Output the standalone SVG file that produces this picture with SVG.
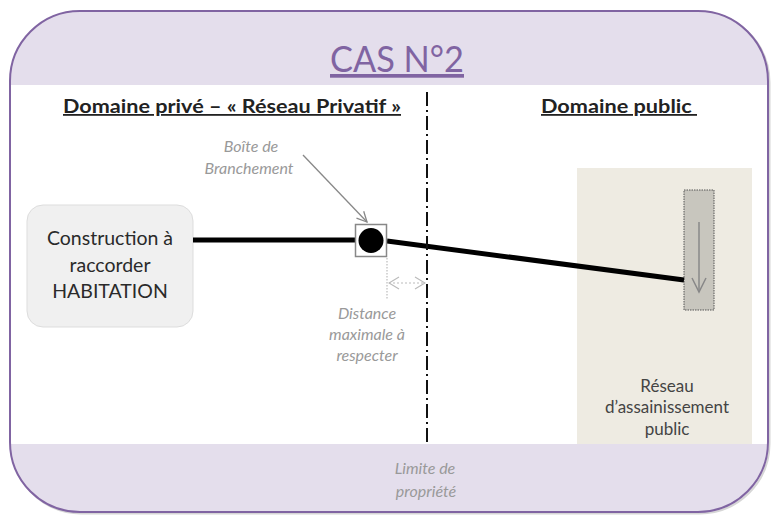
<svg xmlns="http://www.w3.org/2000/svg" width="771" height="515" viewBox="0 0 771 515">
<style>
.cal{font-family:Lato,"Liberation Sans",sans-serif}
.hdr{font-size:18px;font-weight:bold;fill:#222;text-decoration:underline}
.note{font-size:16px;font-style:italic;fill:#999}
.pipe{stroke:#000;stroke-width:5;fill:none}
</style>
<defs>
<clipPath id="outerClip"><rect x="10" y="11" width="758" height="501" rx="70" ry="70"/></clipPath>
<marker id="openArrow" viewBox="0 0 12 12" refX="11" refY="6" markerWidth="12" markerHeight="12" markerUnits="userSpaceOnUse" orient="auto"><path d="M1,1 L11,6 L1,11" fill="none" stroke="#888" stroke-width="1.3"/></marker>
<marker id="dimArrow" viewBox="0 0 12 14" refX="11" refY="7" markerWidth="12" markerHeight="14" markerUnits="userSpaceOnUse" orient="auto-start-reverse"><path d="M1,1 L11,7 L1,13" fill="none" stroke="#bbb" stroke-width="1.2"/></marker>
</defs>
<g id="frame">
<rect x="11.5" y="12.5" width="758" height="501" rx="70" ry="70" fill="none" stroke="#bbb" stroke-width="2" opacity="0.6"/>
<rect x="10" y="11" width="758" height="501" rx="70" ry="70" fill="#fff"/>
<g clip-path="url(#outerClip)">
<rect x="0" y="0" width="771" height="85" fill="#E4DEEC"/>
<rect x="0" y="444" width="771" height="71" fill="#E4DEEC"/>
</g>
<rect x="10" y="11" width="758" height="501" rx="70" ry="70" fill="none" stroke="#8064A2" stroke-width="2"/>
</g>
<g id="title">
<text class="cal" x="397" y="72" text-anchor="middle" font-size="37" fill="#8064A2" text-decoration="underline" textLength="134" lengthAdjust="spacingAndGlyphs">CAS N°2</text>
</g>
<g id="headers">
<text class="cal hdr" x="63" y="113" textLength="338" lengthAdjust="spacingAndGlyphs">Domaine privé – « Réseau Privatif »</text>
<text class="cal hdr" x="541" y="113" textLength="156" lengthAdjust="spacingAndGlyphs" xml:space="preserve">Domaine public </text>
</g>
<g id="public-network">
<rect x="577" y="168" width="175" height="276" fill="#EEEBE2"/>
<text class="cal" font-size="17" fill="#444" text-anchor="middle"><tspan x="667" y="392">Réseau</tspan><tspan x="667" y="413">d’assainissement</tspan><tspan x="667" y="435">public</tspan></text>
</g>
<g id="collector">
<rect x="684" y="190" width="30" height="120" fill="#C8C6BE" stroke="#555" stroke-width="1" stroke-dasharray="1.5 1"/>
<line x1="699" y1="222" x2="699" y2="292" stroke="#888" stroke-width="1.5"/>
<path d="M692,278 L699,292 L706,278" fill="none" stroke="#888" stroke-width="1.5"/>
</g>
<g id="construction">
<rect x="27" y="205" width="166" height="122" rx="16" ry="16" fill="#F0F0F0" stroke="#ddd" stroke-width="1"/>
<text class="cal" font-size="19.5" fill="#2a2a2a" text-anchor="middle"><tspan x="110" y="245">Construction à</tspan><tspan x="110" y="272">raccorder</tspan><tspan x="110" y="298">HABITATION</tspan></text>
</g>
<g id="connectors">
<line class="pipe" x1="193" y1="240" x2="356" y2="240"/>
<line class="pipe" x1="387" y1="241" x2="684" y2="280"/>
<line x1="427" y1="92" x2="427" y2="444" stroke="#111" stroke-width="2" stroke-dasharray="14 4 2 4"/>
<line x1="303" y1="155" x2="367" y2="222" stroke="#888" stroke-width="1.3" marker-end="url(#openArrow)"/>
<line x1="387" y1="258" x2="387" y2="300" stroke="#bbb" stroke-width="1.2" stroke-dasharray="1.5 1.5"/>
<line x1="389" y1="283" x2="425" y2="283" stroke="#bbb" stroke-width="1.2" stroke-dasharray="2 2" marker-start="url(#dimArrow)" marker-end="url(#dimArrow)"/>
</g>
<g id="branch-box">
<rect x="355.5" y="224.5" width="31" height="32" fill="#fff" stroke="#888" stroke-width="1.5"/>
<circle cx="371" cy="240.5" r="12.5" fill="#000"/>
</g>
<g id="labels">
<text class="cal note" text-anchor="middle"><tspan x="251" y="152">Boîte de</tspan><tspan x="249" y="174">Branchement</tspan></text>
<text class="cal note" text-anchor="middle"><tspan x="367" y="319">Distance</tspan><tspan x="367" y="340">maximale à</tspan><tspan x="367" y="361">respecter</tspan></text>
<text class="cal note" text-anchor="middle"><tspan x="425" y="474">Limite de</tspan><tspan x="426" y="497">propriété</tspan></text>
</g>
</svg>
